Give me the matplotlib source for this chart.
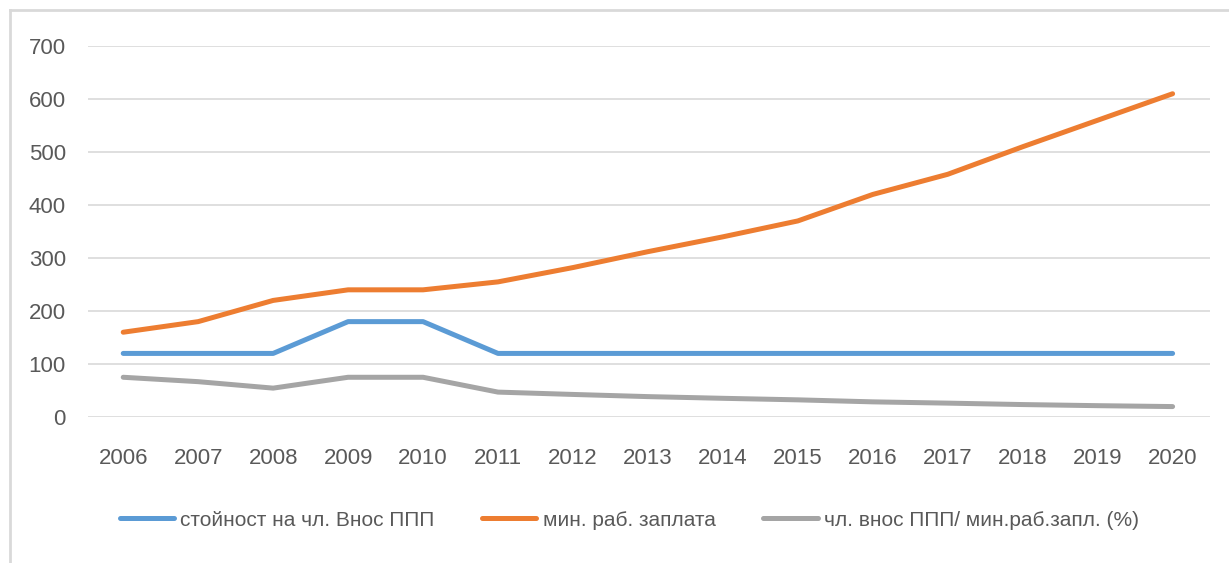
import matplotlib.pyplot as plt
import numpy as np

plt.rcParams['font.family'] = ['Liberation Sans Narrow', 'Liberation Sans', 'DejaVu Sans']

years = np.arange(2006, 2021)
contrib = [120, 120, 120, 180, 180, 120, 120, 120, 120, 120, 120, 120, 120, 120, 120]
min_wage = [160, 180, 220, 240, 240, 255, 282, 312, 340, 370, 420, 458, 510, 560, 610]
ratio = [75, 66.7, 54.5, 75, 75, 47, 42.6, 38.5, 35.3, 32.4, 28.6, 26.2, 23.5, 21.4, 19.7]

labels = ['стойност на чл. Внос ППП', 'мин. раб. заплата', 'чл. внос ППП/ мин.раб.запл. (%)']
colors = ['#5b9bd5', '#ed7d31', '#a5a5a5']

fig = plt.figure(figsize=(12.29, 5.63), dpi=100)
ax = fig.add_axes([0.0716, 0.2593, 0.913, 0.6589])

for vals, lab, c in zip([contrib, min_wage, ratio], labels, colors):
    ax.plot(years, vals, color=c, lw=3.6, label=lab, solid_capstyle='round',
            solid_joinstyle='round')

ax.set_xlim(2005.53, 2020.5)
ax.set_ylim(0, 700)
ax.set_yticks(range(0, 701, 100))
ax.set_xticks(years)
ax.grid(axis='y', color='#d9d9d9', lw=1.2)
ax.set_axisbelow(True)
for s in ax.spines.values():
    s.set_visible(False)
ax.tick_params(length=0, labelsize=16, colors='#595959')
ax.tick_params(axis='y', pad=16)
ax.tick_params(axis='x', pad=22)

leg = fig.legend(*ax.get_legend_handles_labels(), loc='center',
                 bbox_to_anchor=(0.512, 1 - 520 / 563), ncol=3, frameon=False,
                 fontsize=15, handlelength=2.6, handletextpad=0.3, columnspacing=2.3,
                 labelcolor='#595959')

# outer chart frame (left and top visible in the crop)
fig.add_artist(plt.Line2D([10/1229, 10/1229], [0, 1 - 10/563], color='#d9d9d9', lw=2,
                          transform=fig.transFigure))
fig.add_artist(plt.Line2D([10/1229, 1], [1 - 10/563, 1 - 10/563], color='#d9d9d9', lw=2,
                          transform=fig.transFigure))

fig.savefig('out.png', dpi=100)
